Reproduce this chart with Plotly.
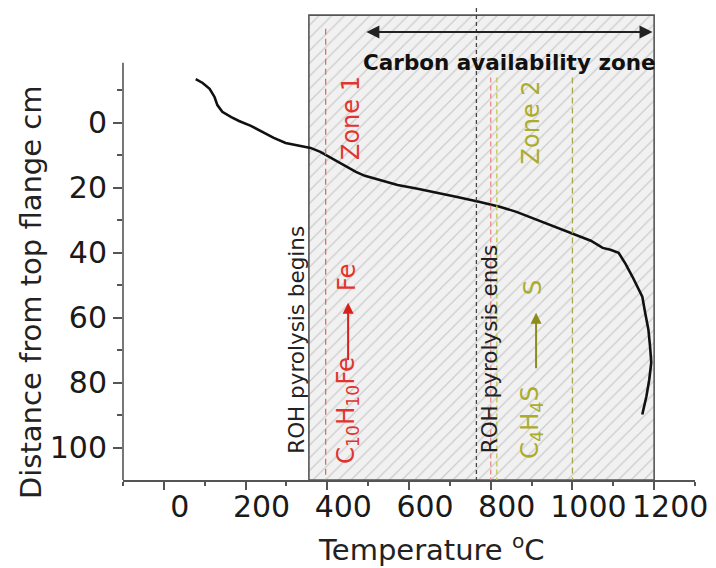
import plotly.graph_objects as go

# Temperature profile along the reactor
temperature_c = [78, 95, 112, 124, 131, 143, 165, 184, 213, 240, 269, 298, 330, 359,
                 383, 410, 439, 470, 492, 536, 572, 621, 669, 718, 771, 822, 863, 912,
                 960, 1009, 1045, 1074, 1093, 1113, 1130, 1147, 1162, 1171, 1178, 1186,
                 1190, 1193, 1188, 1181, 1171]
distance_cm = [-13.5, -12.3, -10.5, -8.0, -5.5, -3.4, -1.8, -0.6, 0.9, 2.8, 4.6, 6.2, 7.1, 7.7,
               8.9, 10.8, 12.9, 15.1, 16.3, 17.8, 19.1, 20.3, 21.5, 22.8, 24.3, 25.8, 27.4, 29.8,
               32.0, 34.5, 36.3, 38.5, 39.1, 40.0, 43.4, 47.4, 51.4, 53.5, 58.5, 63.7,
               68.9, 73.8, 79.1, 84.3, 89.8]

x_ticks = [0, 200, 400, 600, 800, 1000, 1200]
y_ticks = [0, 20, 40, 60, 80, 100]
y_minor = [-10, 10, 30, 50, 70, 90]

# Carbon availability zone (hatched region)
zone_x = [355, 1200]
zone_y = [-33.2, 110]

# Reference temperatures: zone 1 start, pyrolysis end, zone 1 end, zone 2 start, zone 2 end
ref_temps = [396, 765, 800, 815, 1000]
ref_tops = [-29, -35.4, -14, -14, -14]
ref_colors = ["#e46a6a", "#444444", "#e88a8a", "#c4c450", "#a8a848"]
ref_dash = ["6px,4px", "4px,3px", "5px,3px", "5px,3px", "6px,4px"]

FONT = "DejaVu Sans"
RED = "#e2342f"
OLIVE = "#acac2c"

fig = go.Figure()

fig.add_trace(go.Scatter(
    x=[zone_x[0], zone_x[1], zone_x[1], zone_x[0], zone_x[0]],
    y=[zone_y[1], zone_y[1], zone_y[0], zone_y[0], zone_y[1]],
    mode="lines", fill="toself",
    fillpattern=dict(shape="/", bgcolor="#f1f1f1", fgcolor="#a8a8a8", size=9, solidity=0.14),
    line=dict(color="#555555", width=1.6),
    hoverinfo="skip", showlegend=False,
))

fig.add_trace(go.Scatter(
    x=temperature_c, y=distance_cm, mode="lines",
    line=dict(color="#111111", width=2.6),
    showlegend=False,
))

shapes = []
for t, top, c, d in zip(ref_temps, ref_tops, ref_colors, ref_dash):
    shapes.append(dict(type="line", xref="x", yref="y", x0=t, x1=t, y0=top, y1=110,
                       line=dict(color=c, width=1.3, dash=d)))
# left axis line, only over the labelled span
shapes.append(dict(type="line", xref="paper", yref="y", x0=0, x1=0, y0=-18.5, y1=110,
                   line=dict(color="#555555", width=1.6)))

annotations = [
    dict(x=846, y=-18.5, text="<b>Carbon availability zone</b>", showarrow=False,
         font=dict(family=FONT, size=21.5, color="#111111")),
    dict(x=1196, y=-28, ax=492, ay=-28, axref="x", ayref="y", text="", showarrow=True,
         arrowside="end+start", arrowhead=2, arrowsize=1.3, arrowwidth=2, arrowcolor="#222222"),
    dict(x=326, y=66.8, text="ROH pyrolysis begins", textangle=-90, showarrow=False,
         font=dict(family=FONT, size=21.5, color="#222222")),
    dict(x=796, y=69.7, text="ROH pyrolysis ends", textangle=-90, showarrow=False,
         font=dict(family=FONT, size=21.5, color="#222222")),
    dict(x=458, y=-1.5, text="Zone 1", textangle=-90, showarrow=False,
         font=dict(family=FONT, size=24, color=RED)),
    dict(x=899, y=-0.2, text="Zone 2", textangle=-90, showarrow=False,
         font=dict(family=FONT, size=24, color=OLIVE)),
    dict(x=447, y=88.6, text="C<sub>10</sub>H<sub>10</sub>Fe", textangle=-90, showarrow=False,
         font=dict(family=FONT, size=24.5, color=RED)),
    dict(x=451, y=55.4, ax=451, ay=73.5, axref="x", ayref="y", text="", showarrow=True,
         arrowhead=2, arrowsize=1.1, arrowwidth=2, arrowcolor="#d8201c"),
    dict(x=446, y=47.5, text="Fe", textangle=-90, showarrow=False,
         font=dict(family=FONT, size=24.5, color=RED)),
    dict(x=898, y=92.2, text="C<sub>4</sub>H<sub>4</sub>S", textangle=-90, showarrow=False,
         font=dict(family=FONT, size=24.5, color=OLIVE)),
    dict(x=911, y=58.5, ax=911, ay=76, axref="x", ayref="y", text="", showarrow=True,
         arrowhead=2, arrowsize=1.1, arrowwidth=2, arrowcolor="#8c8c1c"),
    dict(x=902, y=50.5, text="S", textangle=-90, showarrow=False,
         font=dict(family=FONT, size=24.5, color=OLIVE)),
    # axis titles
    dict(xref="paper", yref="paper", x=-0.161, y=0.398, xanchor="center", yanchor="middle",
         text="Distance from top flange cm", textangle=-90, showarrow=False,
         font=dict(family=FONT, size=29, color="#222222")),
    dict(xref="paper", yref="paper", x=0.54, y=-0.144, xanchor="center", yanchor="middle",
         text="Temperature <sup>o</sup>C", showarrow=False,
         font=dict(family=FONT, size=29, color="#222222")),
]

fig.update_layout(
    width=716, height=568,
    margin=dict(l=123, r=15, t=8, b=88),
    paper_bgcolor="white", plot_bgcolor="white",
    font=dict(family=FONT, color="#222222"),
    shapes=shapes, annotations=annotations,
    showlegend=False,
)

fig.update_xaxes(
    range=[-100, 1300], tickmode="array", tickvals=x_ticks,
    ticks="outside", ticklen=8, tickwidth=1.5, tickcolor="#555555",
    minor=dict(dtick=100, tick0=0, ticks="outside", ticklen=4, tickwidth=1.5, tickcolor="#555555"),
    showline=True, linecolor="#555555", linewidth=1.6,
    showgrid=False, zeroline=False,
    tickfont=dict(family=FONT, size=30, color="#1a1a1a"),
    ticklabelshift=16, ticklabelstandoff=-9,
)
fig.update_yaxes(
    range=[110, -35.4], tickmode="array", tickvals=y_ticks,
    ticks="outside", ticklen=9, tickwidth=1.5, tickcolor="#555555",
    minor=dict(tickmode="array", tickvals=y_minor, ticks="outside", ticklen=5,
               tickwidth=1.5, tickcolor="#555555"),
    showline=False, showgrid=False, zeroline=False,
    tickfont=dict(family=FONT, size=30, color="#1a1a1a"),
)

fig.write_html("out.html")
